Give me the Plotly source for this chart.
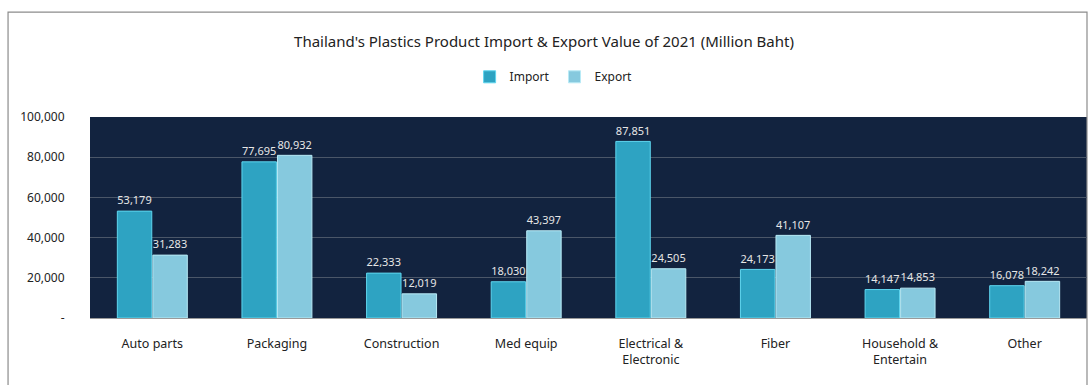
import plotly.graph_objects as go

categories = ["Auto parts", "Packaging", "Construction", "Med equip",
              "Electrical &<br>Electronic", "Fiber", "Household &<br>Entertain", "Other"]
import_values = [53179, 77695, 22333, 18030, 87851, 24173, 14147, 16078]
export_values = [31283, 80932, 12019, 43397, 24505, 41107, 14853, 18242]
y_tickvals = [0, 20000, 40000, 60000, 80000, 100000]
y_ticktext = ["-", "20,000", "40,000", "60,000", "80,000", "100,000"]

FONT = "Noto Sans"

fig = go.Figure()
fig.add_trace(go.Bar(
    name="Import", x=categories, y=import_values,
    marker=dict(color="#2ea3c2", line=dict(color="#5fd6ef", width=1)),
    text=[f"{v:,}" for v in import_values], textposition="outside",
    textfont=dict(color="#e6e6e6", size=12, family=FONT), cliponaxis=False,
))
fig.add_trace(go.Bar(
    name="Export", x=categories, y=export_values,
    marker=dict(color="#86c9de", line=dict(color="#b8eaf6", width=1)),
    text=[f"{v:,}" for v in export_values], textposition="outside",
    textfont=dict(color="#e6e6e6", size=12, family=FONT), cliponaxis=False,
))

fig.update_layout(
    width=1088, height=385,
    margin=dict(l=90, r=1, t=117, b=67),
    paper_bgcolor="white", plot_bgcolor="#12233f",
    font=dict(family=FONT, color="#222222", size=12),
    title=dict(text="Thailand's Plastics Product Import & Export Value of 2021 (Million Baht)",
               x=0.5, xanchor="center", y=0.892, yanchor="middle",
               font=dict(size=15, color="#222222", family=FONT)),
    legend=dict(orientation="h", x=0.465, xanchor="center", y=1.2, yanchor="middle",
                font=dict(size=12, color="#222222"), itemwidth=30),
    barmode="group", bargap=0.43, bargroupgap=0.03,
    shapes=[dict(type="rect", xref="paper", yref="paper",
                 x0=-0.0822, x1=1.0, y0=-0.5, y1=1.522,
                 line=dict(color="#8c8c8c", width=1.2), fillcolor="rgba(0,0,0,0)", layer="below")],
)
fig.update_xaxes(showgrid=False, tickfont=dict(size=12.5, color="#222222"), ticks="",
                 ticklabelstandoff=14,
                 showline=True, linecolor="#9a9a9a", linewidth=1)
fig.update_yaxes(range=[0, 100000], tickvals=y_tickvals, ticktext=y_ticktext,
                 showgrid=True, gridcolor="#4a5668", gridwidth=1, zeroline=False,
                 ticks="outside", ticklen=22, tickcolor="rgba(0,0,0,0)",
                 tickfont=dict(size=12, color="#222222"))

fig.write_html("out.html")
